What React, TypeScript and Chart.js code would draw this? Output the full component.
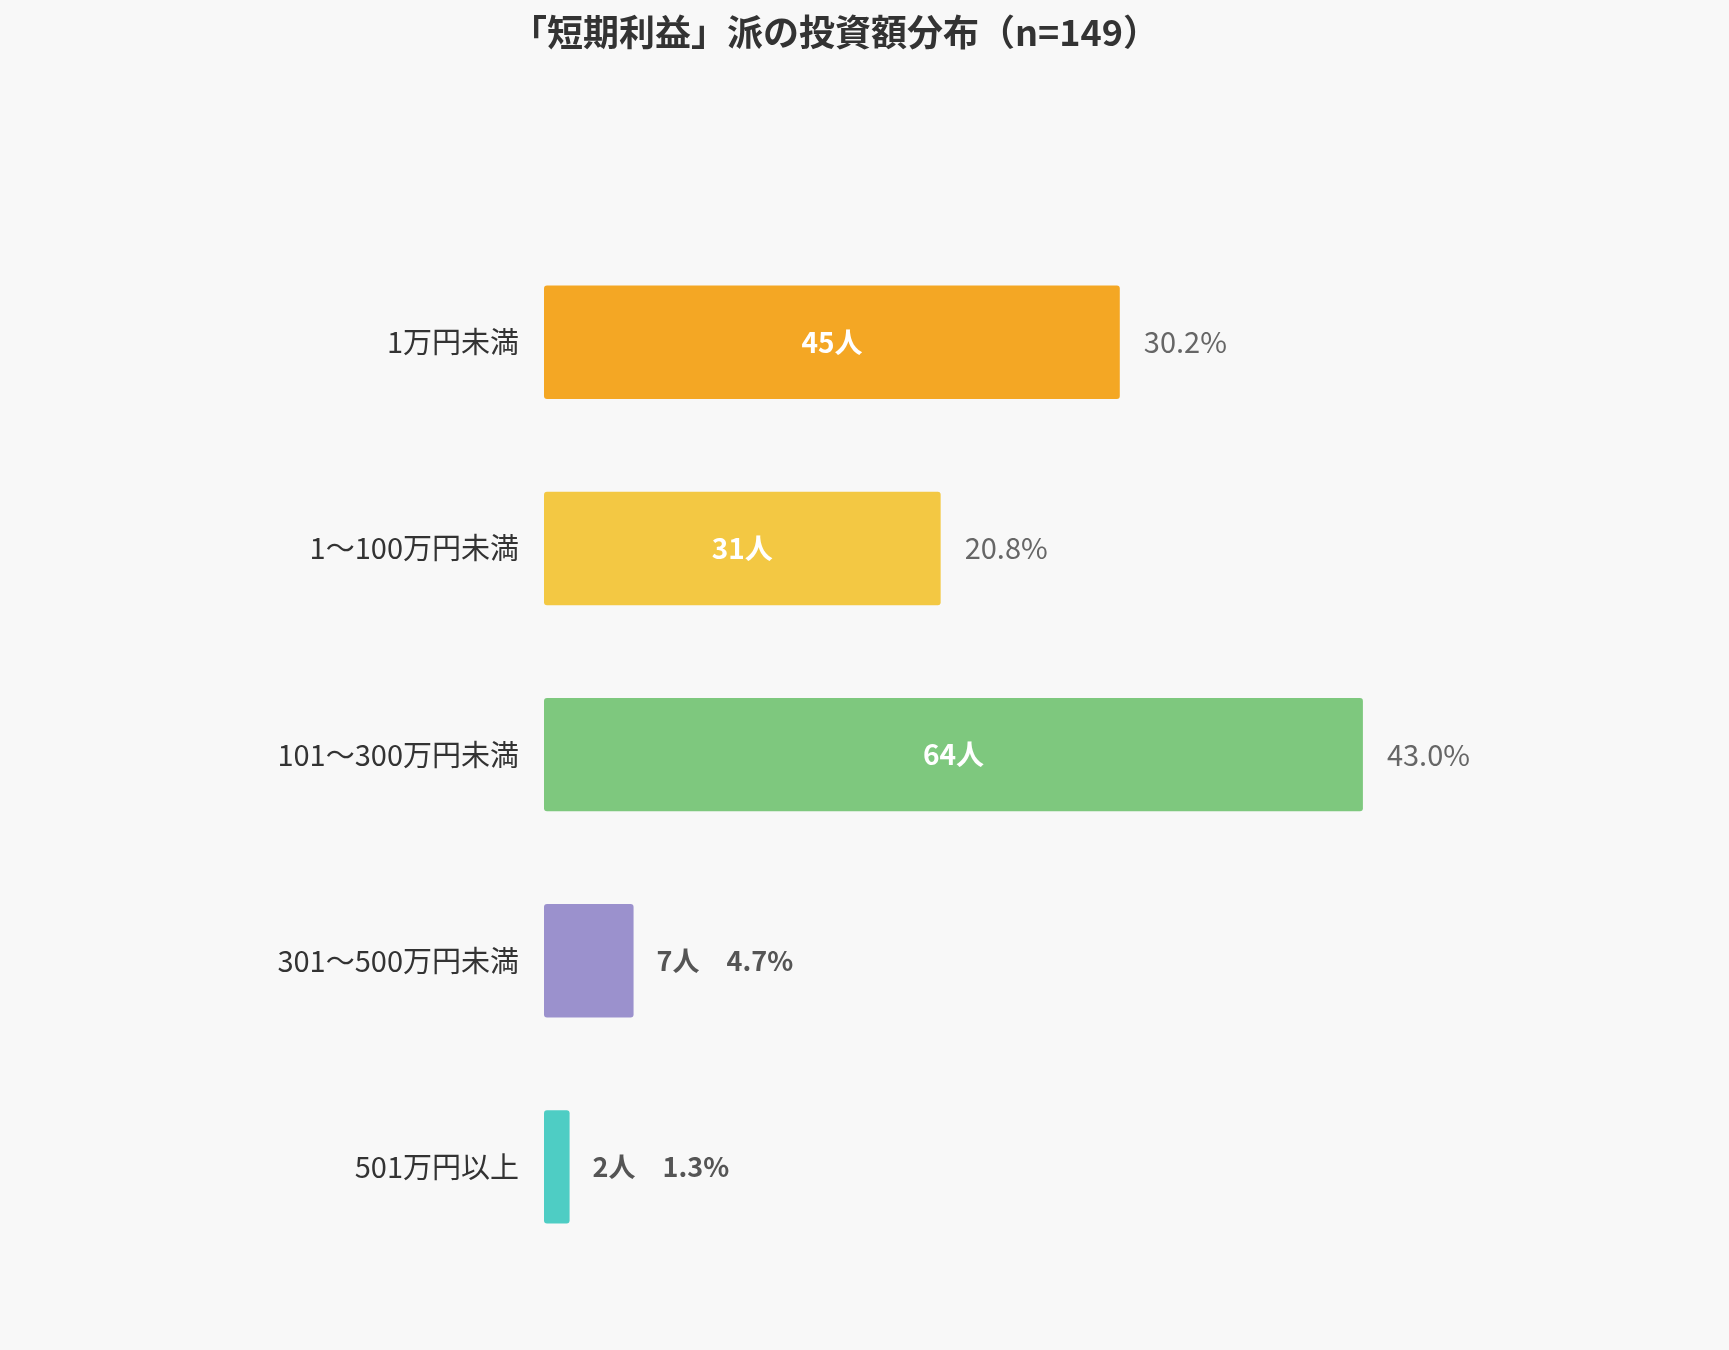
import { useEffect, useRef } from "react";
import { Chart, registerables } from "chart.js";

Chart.register(...registerables);

const FONT = "'Noto Sans CJK JP', 'Noto Sans', sans-serif";

const titleText = "「短期利益」派の投資額分布（n=149）";
const categories = ["1万円未満", "1〜100万円未満", "101〜300万円未満", "301〜500万円未満", "501万円以上"];
const counts = [45, 31, 64, 7, 2];
const percents = ["30.2", "20.8", "43.0", "4.7", "1.3"];
const barColors = ["#F4A724", "#F3C843", "#7EC87E", "#9B91CD", "#4ECDC4"];

// counts below this are labelled outside the bar
const insideMin = 10;

const barLabels = {
  id: "barLabels",
  afterDatasetsDraw(chart: Chart) {
    const { ctx } = chart;
    const meta = chart.getDatasetMeta(0);
    ctx.save();
    ctx.textBaseline = "middle";
    meta.data.forEach((bar: any, i: number) => {
      const v = counts[i];
      const p = percents[i];
      const { x, y, base } = bar.getProps(["x", "y", "base"], true);
      if (v >= insideMin) {
        ctx.font = `bold 28px ${FONT}`;
        ctx.fillStyle = "#ffffff";
        ctx.textAlign = "center";
        ctx.fillText(`${v}人`, (x + base) / 2, y);
        ctx.font = `29px ${FONT}`;
        ctx.fillStyle = "#666666";
        ctx.textAlign = "left";
        ctx.fillText(`${p}%`, x + 24, y);
      } else {
        ctx.font = `bold 27px ${FONT}`;
        ctx.fillStyle = "#555555";
        ctx.textAlign = "left";
        ctx.fillText(`${v}人`, x + 23, y);
        const w = ctx.measureText(`${v}人`).width;
        ctx.fillText(`${p}%`, x + 23 + w + 27, y);
      }
    });
    ctx.restore();
  },
};

export default function App() {
  const canvasRef = useRef<HTMLCanvasElement>(null);

  useEffect(() => {
    document.body.style.margin = "0";
    document.body.style.background = "#f8f8f8";
    if (!canvasRef.current) return;

    const chart = new Chart(canvasRef.current, {
      type: "bar",
      data: {
        labels: categories,
        datasets: [
          {
            data: counts,
            backgroundColor: barColors,
            borderWidth: 0,
            borderRadius: 3,
            borderSkipped: false,
            categoryPercentage: 1,
            barPercentage: 0.55,
          },
        ],
      },
      options: {
        indexAxis: "y",
        responsive: false,
        devicePixelRatio: 1,
        animation: false,
        layout: { padding: { left: 0, right: 59, top: 0, bottom: 80 } },
        scales: {
          x: {
            display: false,
            min: 0,
            max: 88,
          },
          y: {
            grid: { display: false },
            border: { display: false },
            ticks: {
              padding: 17,
              color: "#333333",
              font: { family: FONT, size: 29 },
            },
            afterFit(scale: any) {
              scale.width = 544;
            },
          },
        },
        plugins: {
          legend: { display: false },
          tooltip: { enabled: false },
          title: {
            display: true,
            text: titleText,
            color: "#333333",
            font: { family: FONT, size: 36, weight: "bold" },
            padding: { top: 11, bottom: 185 },
          },
        },
      },
      plugins: [barLabels],
    });

    return () => {
      chart.destroy();
    };
  }, []);

  return (
    <div style={{ background: "#f8f8f8", width: 1729, height: 1350 }}>
      <canvas ref={canvasRef} width={1729} height={1350}></canvas>
    </div>
  );
}
